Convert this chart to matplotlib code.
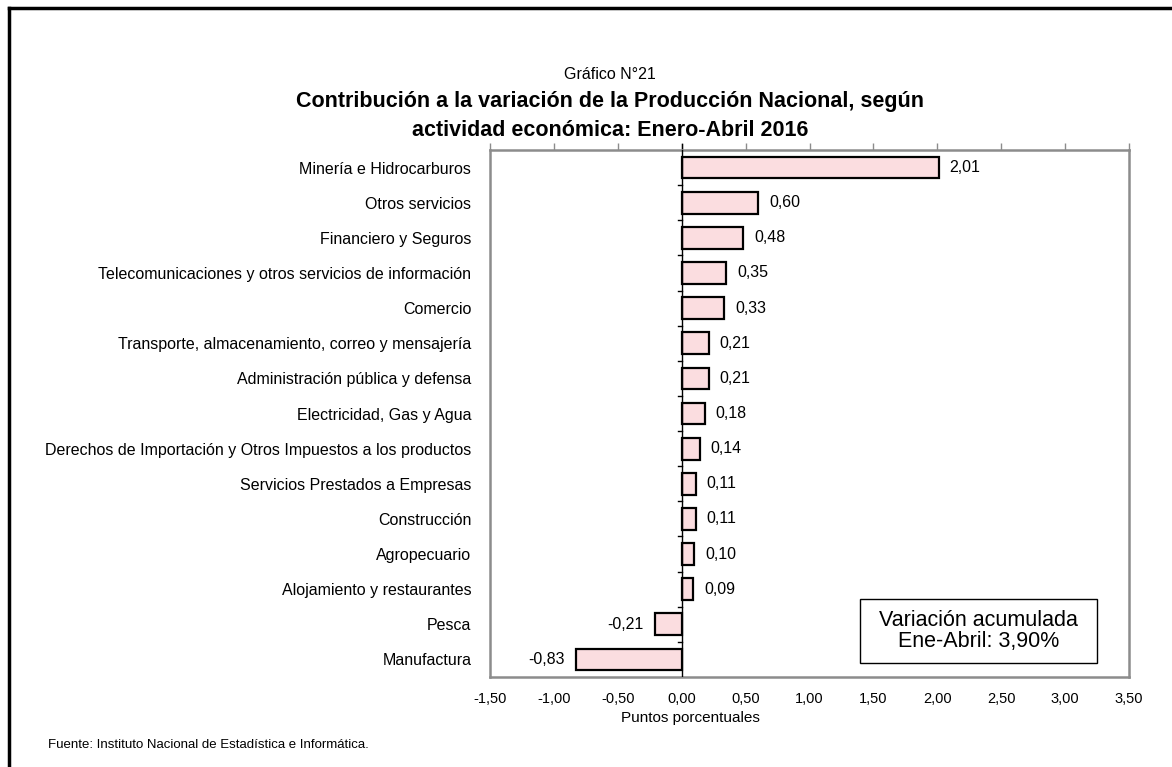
import matplotlib
matplotlib.use("Agg")
import matplotlib.pyplot as plt
from matplotlib.patches import Rectangle
from matplotlib.lines import Line2D

# Contribución por actividad (puntos porcentuales), de arriba hacia abajo
actividades = [
    "Minería e Hidrocarburos",
    "Otros servicios",
    "Financiero y Seguros",
    "Telecomunicaciones y otros servicios de información",
    "Comercio",
    "Transporte, almacenamiento, correo y mensajería",
    "Administración pública y defensa",
    "Electricidad, Gas y Agua",
    "Derechos de Importación y Otros Impuestos a los productos",
    "Servicios Prestados a Empresas",
    "Construcción",
    "Agropecuario",
    "Alojamiento y restaurantes",
    "Pesca",
    "Manufactura",
]
contribucion = [2.01, 0.60, 0.48, 0.35, 0.33, 0.21, 0.21, 0.18, 0.14, 0.11, 0.11, 0.10, 0.09, -0.21, -0.83]
xticks = [-1.5, -1.0, -0.5, 0.0, 0.5, 1.0, 1.5, 2.0, 2.5, 3.0, 3.5]
variacion_total = 3.90

plt.rcParams["font.family"] = ["Liberation Sans", "DejaVu Sans"]


def coma(v):
    return f"{v:.2f}".replace(".", ",")


fig = plt.figure(figsize=(11.72, 7.67), dpi=100)
ax = fig.add_axes([0.4181, 0.1173, 0.5452, 0.6871])

pos = list(range(len(actividades)))
ax.barh(pos, contribucion, height=0.62, color="#FBDDE0", edgecolor="black",
        linewidth=1.6, zorder=3)

ax.set_xlim(xticks[0], xticks[-1])
ax.set_ylim(len(actividades) - 0.5, -0.5)

ax.set_xticks(xticks)
ax.set_xticklabels([coma(t) for t in xticks], fontsize=10.5)
ax.tick_params(axis="x", bottom=False, top=True, direction="out", length=5,
               color="#8c8c8c", width=1, pad=6)

ax.set_yticks(pos)
ax.set_yticklabels(actividades, fontsize=11.5)
ax.tick_params(axis="y", left=False, pad=10)

for s in ax.spines.values():
    s.set_color("#8c8c8c")
    s.set_linewidth(1.8)

# eje vertical en cero con marcas entre categorías
ax.axvline(0, color="black", linewidth=1, zorder=4)
ax.add_line(Line2D([0, 0], [1.0, 1.012], transform=ax.get_xaxis_transform(),
                   color="black", linewidth=1, clip_on=False))
for k in pos[:-1]:
    ax.plot([-0.03, 0], [k + 0.5, k + 0.5], color="black", linewidth=1, zorder=4)

for y, v in zip(pos, contribucion):
    if v >= 0:
        ax.annotate(coma(v), (v, y), xytext=(8, 0), textcoords="offset points",
                    ha="left", va="center", fontsize=11.5)
    else:
        ax.annotate(coma(v), (v, y), xytext=(-8, 0), textcoords="offset points",
                    ha="right", va="center", fontsize=11.5)

# recuadro de variación acumulada
ax.add_patch(Rectangle((0.579, 0.0266), 0.371, 0.1214, transform=ax.transAxes,
                       facecolor="white", edgecolor="black", linewidth=1, zorder=5))
ax.text(0.7645, 0.0873, "Variación acumulada\nEne-Abril: " + coma(variacion_total) + "%",
        transform=ax.transAxes, ha="center", va="center", fontsize=15.5,
        linespacing=0.95, zorder=6)

fig.text(0.5887, 0.064, "Puntos porcentuales", ha="center", va="center", fontsize=11)

fig.text(0.5205, 0.903, "Gráfico N°21", ha="center", va="center", fontsize=11.5)
fig.text(0.5205, 0.868, "Contribución a la variación de la Producción Nacional, según",
         ha="center", va="center", fontsize=15.5, fontweight="bold")
fig.text(0.5205, 0.830, "actividad económica: Enero-Abril 2016",
         ha="center", va="center", fontsize=15.5, fontweight="bold")

fig.text(0.041, 0.0287, "Fuente: Instituto Nacional de Estadística e Informática.",
         ha="left", va="center", fontsize=9.5)

# marco de la figura (izquierda y arriba)
fig.add_artist(Line2D([0.0075, 0.0075], [0, 0.9895], transform=fig.transFigure,
                      color="black", linewidth=2.5))
fig.add_artist(Line2D([0.0075, 1.0], [0.9895, 0.9895], transform=fig.transFigure,
                      color="black", linewidth=2.5))

fig.savefig("out.png", dpi=100)
